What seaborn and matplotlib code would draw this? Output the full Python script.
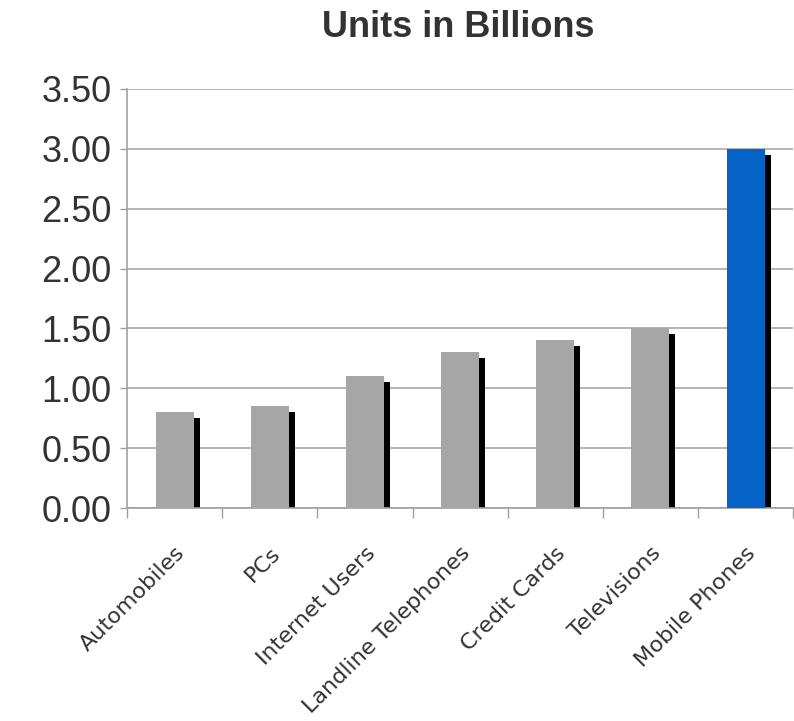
import matplotlib
matplotlib.use("Agg")
import matplotlib.pyplot as plt
import matplotlib.transforms as mtransforms
import seaborn as sns
import numpy as np

categories = ["Automobiles", "PCs", "Internet Users", "Landline Telephones",
              "Credit Cards", "Televisions", "Mobile Phones"]
values = [0.80, 0.85, 1.10, 1.30, 1.40, 1.50, 3.00]
bar_colors = ["#A6A6A6"] * 6 + ["#0563C8"]
yticks = [0.0, 0.5, 1.0, 1.5, 2.0, 2.5, 3.0, 3.5]
title = "Units in Billions"

sns.set_theme(style="white")
plt.rcParams['font.family'] = ['Liberation Sans', 'DejaVu Sans']

fig = plt.figure(figsize=(7.94, 7.21), dpi=100)
ax = fig.add_axes([0.160, 0.2954, 0.839, 0.5812])

# shadow bars
sns.barplot(x=categories, y=values, color="black", width=0.4, ax=ax,
            saturation=1, zorder=2)
shadow_patches = list(ax.patches)
off = mtransforms.ScaledTranslation(6 / 100, -6 / 100, fig.dpi_scale_trans)
for p in shadow_patches:
    p.set_transform(ax.transData + off)
    p.set_edgecolor("none")

# main bars
sns.barplot(x=categories, y=values, hue=categories, palette=bar_colors,
            width=0.4, ax=ax, legend=False, saturation=1, zorder=3)
for p in ax.patches[len(shadow_patches):]:
    p.set_edgecolor("none")

ax.set_xlim(-0.5, len(categories) - 0.5)
ax.set_ylim(0, 3.5)
ax.set_yticks(yticks)
ax.set_yticklabels([f"{v:.2f}" for v in yticks], fontsize=26, color="#333333")
ax.yaxis.grid(True, color="#B4B4B4", linewidth=1.4, zorder=0)
ax.set_axisbelow(True)
ax.tick_params(axis="y", which="major", left=True, length=5, width=1,
               color="#A0A0A0", pad=6)

ax.set_xticks(range(len(categories)))
ax.set_xticklabels(categories, rotation=45, ha="right", rotation_mode="anchor",
                   fontsize=16, color="#333333", family=["DejaVu Sans"])
ax.set_xticks(np.arange(-0.5, len(categories), 1.0), minor=True)
ax.tick_params(axis="x", which="major", length=0, pad=25)
ax.tick_params(axis="x", which="minor", bottom=True, length=7, width=1,
               color="#A0A0A0")

for s in ["top", "right"]:
    ax.spines[s].set_visible(False)
for s in ["left", "bottom"]:
    ax.spines[s].set_color("#A0A0A0")
    ax.spines[s].set_linewidth(1.2)

ax.set_xlabel("")
ax.set_ylabel("")
fig.text(0.577, 0.949, title, ha="center", va="baseline", fontsize=26,
         fontweight="bold", color="#333333")

fig.savefig("out.png", dpi=100)
